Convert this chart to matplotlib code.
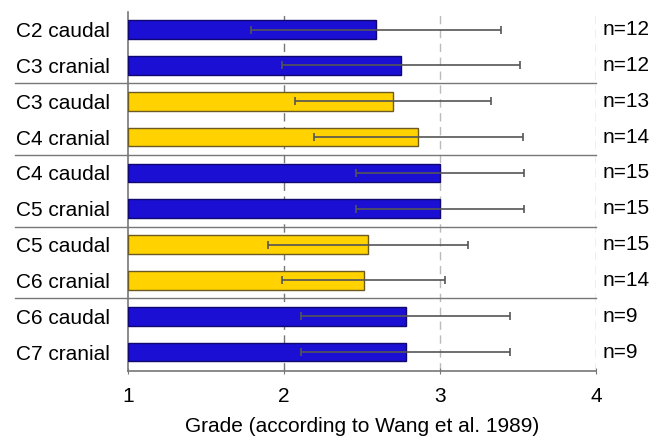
import matplotlib
matplotlib.use('Agg')
import matplotlib.pyplot as plt
import numpy as np

plt.rcParams['font.family'] = ['Liberation Sans', 'DejaVu Sans']

labels = ['C2 caudal', 'C3 cranial', 'C3 caudal', 'C4 cranial', 'C4 caudal',
          'C5 cranial', 'C5 caudal', 'C6 cranial', 'C6 caudal', 'C7 cranial']
means = [2.59, 2.75, 2.70, 2.86, 3.00, 3.00, 2.54, 2.51, 2.78, 2.78]
sds = [0.80, 0.76, 0.63, 0.67, 0.54, 0.54, 0.64, 0.52, 0.67, 0.67]
counts = [12, 12, 13, 14, 15, 15, 15, 14, 9, 9]
groups = ['blue', 'blue', 'yellow', 'yellow', 'blue', 'blue',
          'yellow', 'yellow', 'blue', 'blue']

fill = {'blue': '#1a0fd2', 'yellow': '#ffd200'}
edge = {'blue': '#10086e', 'yellow': '#6b5a22'}

fig = plt.figure(figsize=(6.64, 4.4), dpi=100)
ax = fig.add_axes([0.1928, 0.1575, 0.7048, 0.8152])

y = np.arange(len(labels))
base = 1.0
for i in range(len(labels)):
    ax.barh(y[i], means[i] - base, left=base, height=0.52,
            color=fill[groups[i]], edgecolor=edge[groups[i]], linewidth=1.0, zorder=3)
    ax.errorbar(means[i], y[i], xerr=sds[i], fmt='none', ecolor='#555555',
                elinewidth=1.2, capsize=3, capthick=1.2, zorder=4)
    ax.text(4.04, y[i], 'n=%d' % counts[i], va='center', ha='left', fontsize=15)

# vertical dashed grid lines
ax.axvline(2, color='#777777', linestyle=(0, (6, 4)), linewidth=1.0, zorder=1)
ax.axvline(3, color='#bbbbbb', linestyle=(0, (6, 4)), linewidth=1.0, zorder=1)
ax.axvline(4, color='#aaaaaa', linestyle=(0, (6, 4)), linewidth=1.0, zorder=1)

# group separators running into the label area
for s in [1.5, 3.5, 5.5, 7.5]:
    ax.plot([0.275, 4.0], [s, s], color='#777777', linewidth=1.0,
            clip_on=False, zorder=2)

ax.set_xlim(1, 4)
ax.set_ylim(9.52, -0.49)
ax.set_xticks([1, 2, 3, 4])
ax.set_yticks(y)
ax.set_yticklabels(labels, fontsize=15)
ax.tick_params(axis='y', length=0, pad=13)
ax.tick_params(axis='x', length=5, direction='inout', color='#777777', labelsize=15, pad=9)
ax.set_xlabel('Grade (according to Wang et al. 1989)', fontsize=15, labelpad=8)

for side in ['top', 'right']:
    ax.spines[side].set_visible(False)
ax.spines['left'].set_color('#777777')
ax.spines['bottom'].set_color('#777777')
ax.spines['left'].set_linewidth(1.2)
ax.spines['bottom'].set_linewidth(1.2)

fig.savefig('out.png', dpi=100)
